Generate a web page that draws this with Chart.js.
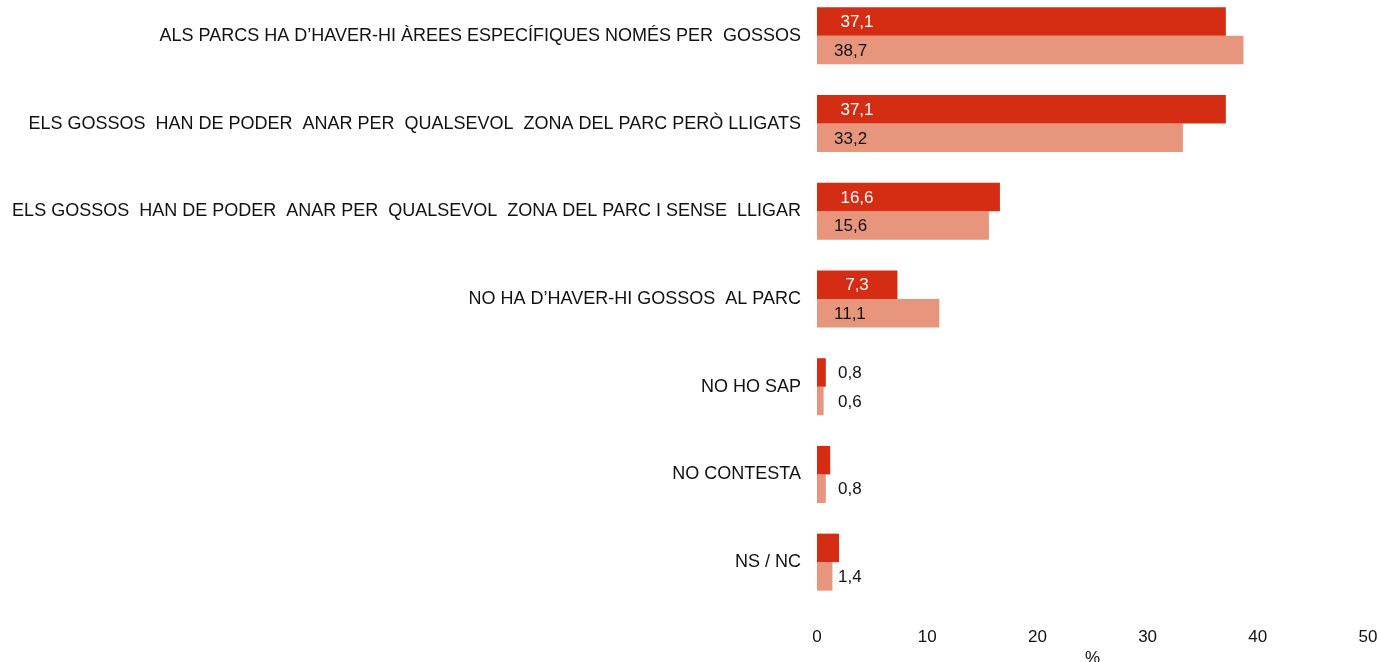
<!DOCTYPE html>
<html lang="ca">
<head>
<meta charset="utf-8">
<title>Gossos als parcs</title>
<script src="https://cdn.jsdelivr.net/npm/chart.js@4.4.1/dist/chart.umd.min.js"></script>
<style>
    html, body {
        margin: 0;
        padding: 0;
        background: #ffffff;
        overflow: hidden;
    }
    .chart-wrap {
        position: absolute;
        left: 0;
        top: -8px;
        width: 1381px;
        height: 680px;
    }
</style>
</head>
<body>
<div class="chart-wrap">
    <canvas id="gossosChart"></canvas>
</div>
<script>
// Categories (answers) and the two series of percentages
const categories = [
    'ALS PARCS HA D\u2019HAVER-HI ÀREES ESPECÍFIQUES NOMÉS PER  GOSSOS',
    'ELS GOSSOS  HAN DE PODER  ANAR PER  QUALSEVOL  ZONA DEL PARC PERÒ LLIGATS',
    'ELS GOSSOS  HAN DE PODER  ANAR PER  QUALSEVOL  ZONA DEL PARC I SENSE  LLIGAR',
    'NO HA D\u2019HAVER-HI GOSSOS  AL PARC',
    'NO HO SAP',
    'NO CONTESTA',
    'NS / NC'
];
const seriesDark = [37.1, 37.1, 16.6, 7.3, 0.8, 1.2, 2.0];
const seriesLight = [38.7, 33.2, 15.6, 11.1, 0.6, 0.8, 1.4];
// which values carry a printed label
const darkLabelShown = [true, true, true, true, true, false, false];
const lightLabelShown = [true, true, true, true, true, true, true];
const xTicks = [0, 10, 20, 30, 40, 50];

const DARK = '#d52d13';
const LIGHT = '#e8957d';
const FONT = "'Liberation Sans', Arial, sans-serif";

function formatValue(v) {
    return v.toFixed(1).replace('.', ',');
}

// Draws the value labels next to / inside each bar
const valueLabels = {
    id: 'valueLabels',
    afterDatasetsDraw(chart) {
        const ctx = chart.ctx;
        const x0 = chart.scales.x.getPixelForValue(0);
        ctx.save();
        ctx.font = '17px ' + FONT;
        ctx.textBaseline = 'middle';
        chart.data.datasets.forEach((ds, di) => {
            const meta = chart.getDatasetMeta(di);
            meta.data.forEach((bar, i) => {
                if (!ds.labelShown[i]) return;
                const v = ds.data[i];
                const text = formatValue(v);
                if (v >= 5) {
                    if (di === 0) {
                        ctx.fillStyle = '#ffffff';
                        ctx.textAlign = 'center';
                        ctx.fillText(text, x0 + 40, bar.y + 1);
                    } else {
                        ctx.fillStyle = '#111111';
                        ctx.textAlign = 'left';
                        ctx.fillText(text, x0 + 17, bar.y + 1);
                    }
                } else {
                    ctx.fillStyle = '#111111';
                    ctx.textAlign = 'left';
                    ctx.fillText(text, x0 + 21, bar.y + 1);
                }
            });
        });
        ctx.restore();
    }
};

const ctx = document.getElementById('gossosChart').getContext('2d');
const gossosChart = new Chart(ctx, {
    type: 'bar',
    data: {
        labels: categories,
        datasets: [
            {
                data: seriesDark,
                labelShown: darkLabelShown,
                backgroundColor: DARK,
                borderWidth: 0,
                categoryPercentage: 0.65,
                barPercentage: 1.0
            },
            {
                data: seriesLight,
                labelShown: lightLabelShown,
                backgroundColor: LIGHT,
                borderWidth: 0,
                categoryPercentage: 0.65,
                barPercentage: 1.0
            }
        ]
    },
    options: {
        indexAxis: 'y',
        responsive: true,
        maintainAspectRatio: false,
        animation: false,
        layout: {
            padding: { top: 0, right: 13, bottom: 0, left: 0 }
        },
        plugins: {
            legend: { display: false },
            tooltip: { enabled: false }
        },
        scales: {
            x: {
                min: 0,
                max: 50,
                afterBuildTicks: (scale) => {
                    scale.ticks = xTicks.map(v => ({ value: v }));
                },
                afterFit: (scale) => {
                    scale.height = 66;
                    scale.paddingLeft = 0;
                    scale.paddingRight = 0;
                },
                grid: { display: false, drawTicks: false },
                border: { display: false },
                ticks: {
                    padding: 21,
                    color: '#111111',
                    font: { family: FONT, size: 17 }
                },
                title: {
                    display: true,
                    text: '%',
                    color: '#111111',
                    padding: { top: 0, bottom: 3 },
                    font: { family: FONT, size: 17 }
                }
            },
            y: {
                afterFit: (scale) => {
                    scale.width = 817;
                    scale.paddingTop = 0;
                    scale.paddingBottom = 0;
                },
                grid: { display: false, drawTicks: false },
                border: { display: false },
                ticks: {
                    padding: 16,
                    color: '#111111',
                    autoSkip: false,
                    font: { family: FONT, size: 18 }
                }
            }
        }
    },
    plugins: [valueLabels]
});
</script>
</body>
</html>
